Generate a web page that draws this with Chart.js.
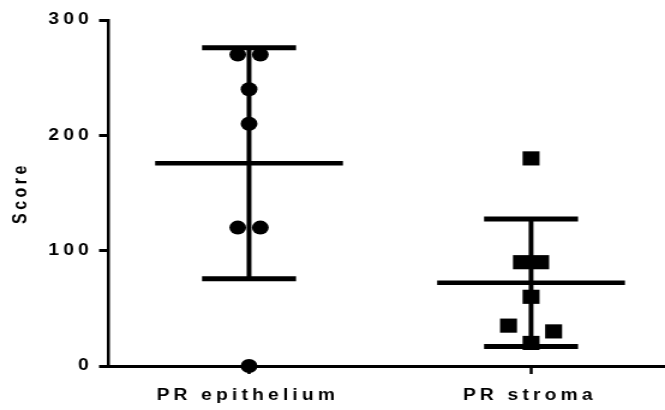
<!DOCTYPE html>
<html>
<head>
<meta charset="utf-8">
<script src="https://cdn.jsdelivr.net/npm/chart.js@4"></script>
<style>
  html, body { margin: 0; padding: 0; background: #ffffff; }
  #c { display: block; width: 665px !important; height: 410px !important; }
</style>
</head>
<body>
<canvas id="c" width="554" height="410" style="width:665px;height:410px"></canvas>
<script>
// ---- data ----
const categories = ['PR epithelium', 'PR stroma'];
const epitheliumScores = [270, 270, 240, 210, 120, 120, 0];
const stromaScores = [180, 90, 90, 60, 35, 30, 20];
// horizontal scatter (Prism-style spreading of overlapping symbols), in category units
const epitheliumJitter = [-0.04, 0.04, 0, 0, -0.04, 0.04, 0];
const stromaJitter = [0, -0.034, 0.034, 0, -0.08, 0.08, 0];
const yTicks = [0, 100, 200, 300];
const yTitle = 'Score';

// ---- helpers ----
const mean = a => a.reduce((s, v) => s + v, 0) / a.length;
const sd = a => { const m = mean(a); return Math.sqrt(a.reduce((s, v) => s + (v - m) * (v - m), 0) / (a.length - 1)); };
const groups = [epitheliumScores, stromaScores];
const toPoints = (vals, jit, idx) => vals.map((v, i) => ({ x: idx + 1 + jit[i], y: v }));

const FONT = { family: '"Liberation Sans", Arial, sans-serif', size: 16, weight: 'bold' };
const SPACING = '3.5px';

const spacingPlugin = {
  id: 'letterSpacing',
  beforeUpdate(chart) { chart.ctx.letterSpacing = SPACING; },
  beforeLayout(chart) { chart.ctx.letterSpacing = SPACING; },
  beforeDraw(chart) { chart.ctx.letterSpacing = SPACING; }
};

const MEAN_HALF = 0.333;
const CAP_HALF = 0.1667;
const meanSdPlugin = {
  id: 'meanSd',
  afterDatasetsDraw(chart) {
    const { ctx, scales: { x, y } } = chart;
    ctx.save();
    ctx.strokeStyle = '#000';
    ctx.lineCap = 'butt';
    groups.forEach((vals, i) => {
      const c = i + 1, m = mean(vals), s = sd(vals);
      const seg = (x1, y1, x2, y2, w) => {
        ctx.lineWidth = w;
        ctx.beginPath();
        ctx.moveTo(x.getPixelForValue(x1), y.getPixelForValue(y1));
        ctx.lineTo(x.getPixelForValue(x2), y.getPixelForValue(y2));
        ctx.stroke();
      };
      seg(c, m - s, c, m + s, 4);                       // SD bar
      seg(c - CAP_HALF, m + s, c + CAP_HALF, m + s, 5); // upper cap
      seg(c - CAP_HALF, m - s, c + CAP_HALF, m - s, 5); // lower cap
      seg(c - MEAN_HALF, m, c + MEAN_HALF, m, 4.5);     // mean
    });
    ctx.restore();
  }
};

new Chart(document.getElementById('c'), {
  type: 'scatter',
  data: {
    datasets: [
      {
        label: categories[0],
        data: toPoints(epitheliumScores, epitheliumJitter, 0),
        pointStyle: 'circle',
        pointRadius: 7,
        backgroundColor: '#000',
        borderColor: '#000',
        borderWidth: 0,
        clip: false
      },
      {
        label: categories[1],
        data: toPoints(stromaScores, stromaJitter, 1),
        pointStyle: 'rect',
        pointRadius: 10,
        backgroundColor: '#000',
        borderColor: '#000',
        borderWidth: 0,
        clip: false
      }
    ]
  },
  options: {
    responsive: false,
    animation: false,
    devicePixelRatio: 1,
    layout: { autoPadding: false, padding: { top: 20, right: 0, bottom: 0, left: 0 } },
    plugins: { legend: { display: false }, tooltip: { enabled: false } },
    scales: {
      x: {
        type: 'linear',
        min: 0.5,
        max: 2.475,
        afterBuildTicks: s => { s.ticks = categories.map((_, i) => ({ value: i + 1 })); },
        afterFit: s => { s.height = 44; },
        ticks: {
          autoSkip: false,
          maxRotation: 0,
          padding: 12,
          labelOffset: -1,
          color: '#000',
          font: FONT,
          callback: v => categories[Math.round(v) - 1]
        },
        grid: { drawOnChartArea: false, drawTicks: true, tickLength: 8, tickWidth: 2.5, tickColor: '#000' },
        border: { display: true, color: '#000', width: 3 }
      },
      y: {
        type: 'linear',
        min: 0,
        max: 300,
        afterBuildTicks: s => { s.ticks = yTicks.map(v => ({ value: v })); },
        afterFit: s => { s.width = 90; },
        ticks: { padding: 5, color: '#000', font: FONT },
        grid: { drawOnChartArea: false, drawTicks: true, tickLength: 7.5, tickWidth: 3, tickColor: '#000' },
        border: { display: true, color: '#000', width: 2.5 },
        title: { display: true, text: yTitle, color: '#000', font: FONT, padding: { top: 8, bottom: 4 } }
      }
    }
  },
  plugins: [spacingPlugin, meanSdPlugin]
});
</script>
</body>
</html>
